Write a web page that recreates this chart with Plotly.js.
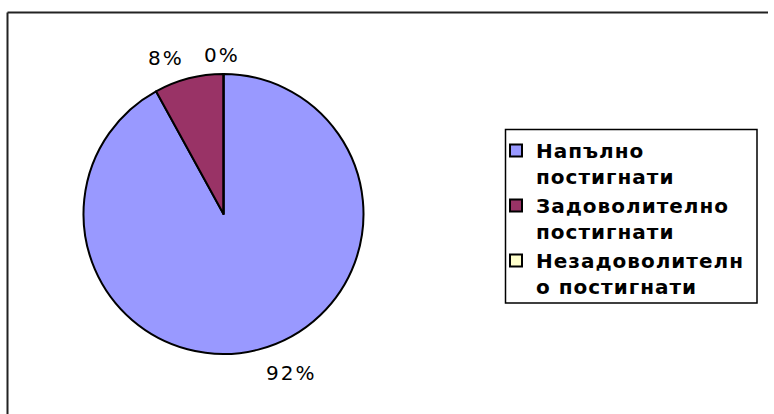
<!DOCTYPE html>
<html>
<head>
<meta charset="utf-8">
<script src="https://cdn.plot.ly/plotly-3.0.1.min.js"></script>
<style>
  html, body { margin: 0; padding: 0; background: #fff; }
  #chart { width: 774px; height: 414px; }
  text.legendtext { letter-spacing: 1px; }
  text.annotation-text { letter-spacing: 2px; }
</style>
</head>
<body>
<div id="chart"></div>
<script>
const categories = ["Напълно<br>постигнати", "Задоволително<br>постигнати", "Незадоволителн<br>о постигнати"];
const values = [92, 8, 0];
const colors = ["#9999FF", "#993366", "#FFFFCC"];

const W = 774, H = 414;
const cx = 223.5, cy = 214, r = 140;
// label placement (angle clockwise from 12 o'clock, distance from pie centre, px)
const labelAngles = [157, 339.8, 359.5];
const labelDist = [172.7, 166.3, 159];

const total = values.reduce((a, b) => a + b, 0);
const annotations = values.map((v, i) => {
  const a = labelAngles[i] * Math.PI / 180;
  const px = cx + labelDist[i] * Math.sin(a);
  const py = cy - labelDist[i] * Math.cos(a);
  return {
    xref: "paper", yref: "paper",
    x: px / W, y: 1 - py / H,
    xanchor: "center", yanchor: "middle",
    text: Math.round(v / total * 100) + "%",
    showarrow: false,
    font: { family: "DejaVu Sans", size: 20, color: "#000000" }
  };
});

const trace = {
  type: "pie",
  labels: categories,
  values: values,
  sort: false,
  direction: "clockwise",
  rotation: 0,
  marker: { colors: colors, line: { color: "#000000", width: 2 } },
  textinfo: "none",
  hoverinfo: "label+percent",
  domain: { x: [(cx - r) / W, (cx + r) / W], y: [(H - cy - r) / H, (H - cy + r) / H] },
  automargin: false
};

const layout = {
  width: W, height: H,
  margin: { l: 0, r: 0, t: 0, b: 0 },
  paper_bgcolor: "#ffffff",
  showlegend: true,
  legend: {
    x: 496 / W, y: 1 - 131 / H, xanchor: "left", yanchor: "top",
    borderwidth: 0, bgcolor: "rgba(0,0,0,0)", valign: "top",
    font: { family: "DejaVu Sans", size: 20, color: "#000000", weight: "bold" }
  },
  annotations: annotations,
  shapes: [
    { type: "line", xref: "paper", yref: "paper", x0: 7.5 / W, x1: 768 / W, y0: 1 - 12.5 / H, y1: 1 - 12.5 / H, line: { color: "#222222", width: 2 } },
    { type: "line", xref: "paper", yref: "paper", x0: 7.5 / W, x1: 7.5 / W, y0: 1 - 12.5 / H, y1: 0, line: { color: "#222222", width: 2 } },
    { type: "rect", xref: "paper", yref: "paper", x0: 505.5 / W, x1: 757 / W, y0: 1 - 129.5 / H, y1: 1 - 303 / H, line: { color: "#000000", width: 1.5 }, fillcolor: "rgba(0,0,0,0)" }
  ]
};

Plotly.newPlot("chart", [trace], layout, { displayModeBar: false, staticPlot: true });
</script>
</body>
</html>
